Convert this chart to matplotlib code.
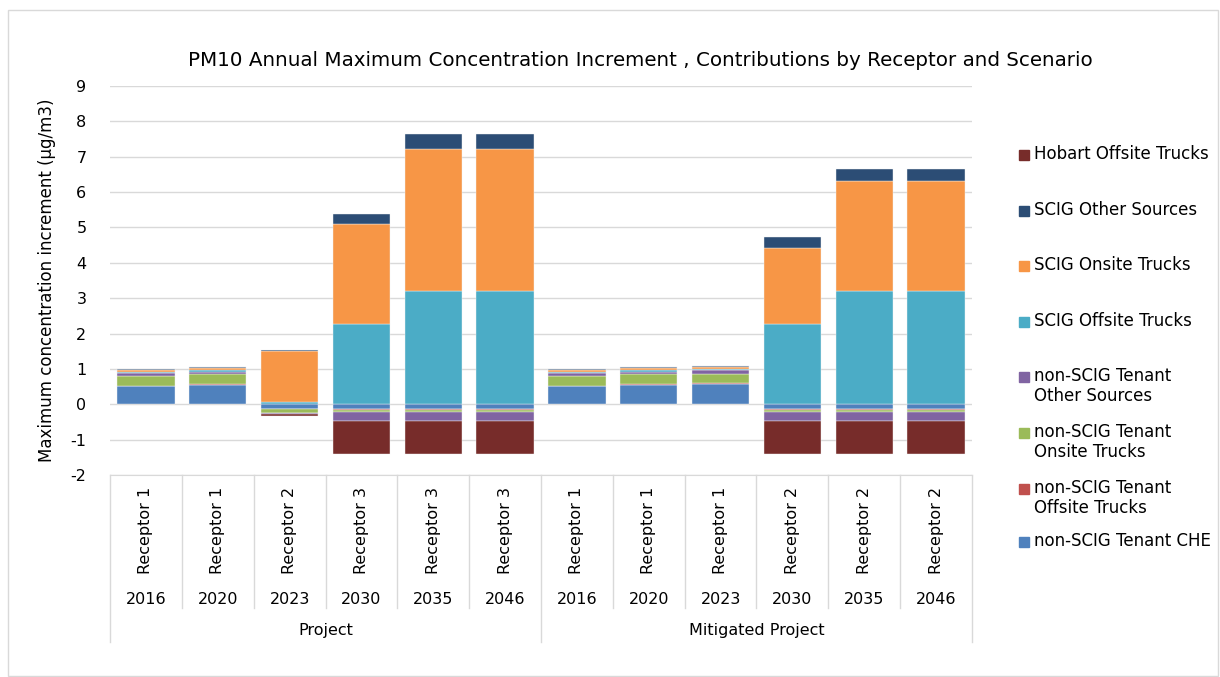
import numpy as np
import matplotlib.pyplot as plt
from matplotlib.patches import Rectangle
from matplotlib.lines import Line2D

plt.rcParams['font.family'] = ['DejaVu Sans']
plt.rcParams['axes.unicode_minus'] = False

# categories
receptors = ["Receptor 1", "Receptor 1", "Receptor 2", "Receptor 3", "Receptor 3", "Receptor 3",
             "Receptor 1", "Receptor 1", "Receptor 1", "Receptor 2", "Receptor 2", "Receptor 2"]
years = ["2016", "2020", "2023", "2030", "2035", "2046",
         "2016", "2020", "2023", "2030", "2035", "2046"]
groups = ["Project", "Mitigated Project"]

# series, stacking order bottom -> top
series_names = ["non-SCIG Tenant CHE", "non-SCIG Tenant\nOffsite Trucks", "non-SCIG Tenant\nOnsite Trucks",
                "non-SCIG Tenant\nOther Sources", "SCIG Offsite Trucks", "SCIG Onsite Trucks",
                "SCIG Other Sources", "Hobart Offsite Trucks"]
series_colors = ["#4F81BD", "#C0504D", "#9BBB59", "#8064A2", "#4BACC6", "#F79646", "#2C4D75", "#772C2A"]

che          = [0.51, 0.55, -0.13, -0.13, -0.13, -0.13, 0.51, 0.55, 0.58, -0.13, -0.13, -0.13]
ten_offsite  = [0.01, 0.01, -0.01, -0.02, -0.02, -0.02, 0.01, 0.01, 0.01, -0.02, -0.02, -0.02]
ten_onsite   = [0.29, 0.30, -0.10, -0.08, -0.08, -0.08, 0.29, 0.30, 0.28, -0.08, -0.08, -0.08]
ten_other    = [0.075, 0.05, -0.04, -0.25, -0.25, -0.25, 0.075, 0.05, 0.09, -0.25, -0.25, -0.25]
scig_offsite = [0.04, 0.07, 0.06, 2.26, 3.21, 3.21, 0.04, 0.07, 0.04, 2.26, 3.21, 3.21]
scig_onsite  = [0.05, 0.05, 1.45, 2.83, 4.02, 4.02, 0.05, 0.04, 0.05, 2.17, 3.10, 3.10]
scig_other   = [0.01, 0.02, 0.02, 0.30, 0.40, 0.40, 0.01, 0.03, 0.02, 0.29, 0.35, 0.35]
hobart       = [0.0, 0.0, -0.06, -0.94, -0.94, -0.94, 0.0, 0.0, 0.0, -0.94, -0.94, -0.94]

series_values = [che, ten_offsite, ten_onsite, ten_other, scig_offsite, scig_onsite, scig_other, hobart]

fs = 11.5

fig = plt.figure(figsize=(12.2, 6.77), dpi=100)
W, H = 1220, 677
ax = fig.add_axes([110 / W, 1 - 475 / H, 862 / W, 389 / H])

x = np.arange(len(years))
pos_bottom = np.zeros(len(x))
neg_bottom = np.zeros(len(x))
for vals, col in zip(series_values, series_colors):
    v = np.array(vals)
    bottom = np.where(v >= 0, pos_bottom, neg_bottom)
    ax.bar(x, v, 0.8, bottom=bottom, color=col, edgecolor="#F2F2F2", linewidth=0.3, zorder=3)
    pos_bottom += np.where(v >= 0, v, 0)
    neg_bottom += np.where(v < 0, v, 0)

ax.set_xlim(-0.5, len(x) - 0.5)
ax.set_ylim(-2, 9)
ax.set_yticks(range(-2, 10))
ax.yaxis.grid(True, color="#D9D9D9", linewidth=1, zorder=0)
ax.set_axisbelow(True)
for s in ["top", "right", "left"]:
    ax.spines[s].set_visible(False)
ax.spines["bottom"].set_color("#D9D9D9")
ax.tick_params(axis="y", length=0, labelsize=fs, pad=17)
ax.tick_params(axis="x", length=0, labelbottom=False)
ax.set_ylabel("Maximum concentration increment (µg/m3)", fontsize=12, labelpad=10)

# multi-level category axis
tr = ax.get_xaxis_transform()
for i in x:
    ax.text(i, -0.1414, receptors[i], rotation=90, ha="center", va="center", fontsize=fs,
            transform=tr, clip_on=False)
    ax.text(i, -0.321, years[i], ha="center", va="center", fontsize=fs, transform=tr, clip_on=False)
for b in range(len(x) + 1):
    low = -0.429 if b % 6 == 0 else -0.342
    ax.add_line(Line2D([b - 0.5, b - 0.5], [0, low], color="#D9D9D9", lw=1, transform=tr, clip_on=False))
for g, name in enumerate(groups):
    ax.text(g * 6 + 2.5, -0.401, name, ha="center", va="center", fontsize=fs, transform=tr, clip_on=False)

fig.text(640 / W, 1 - 60 / H, "PM10 Annual Maximum Concentration Increment , Contributions by Receptor and Scenario",
         ha="center", va="center", fontsize=14.3)

# legend, top entry = last series
leg_y = [155, 211, 266, 322, 377, 433, 489, 542]
for k, idx in enumerate(range(len(series_names) - 1, -1, -1)):
    yy = leg_y[k]
    fig.add_artist(Rectangle((1019 / W, 1 - (yy + 5) / H), 10 / W, 10 / H,
                             transform=fig.transFigure, color=series_colors[idx]))
    fig.text(1034 / W, 1 - (yy - 10) / H, series_names[idx], ha="left", va="top", fontsize=12,
             linespacing=1.15)

# outer chart frame
fig.add_artist(Rectangle((8 / W, 1 / H), 1210 / W, 1 - 11 / H, transform=fig.transFigure,
                         fill=False, edgecolor="#D9D9D9", lw=1))

fig.savefig("out.png", dpi=100)
